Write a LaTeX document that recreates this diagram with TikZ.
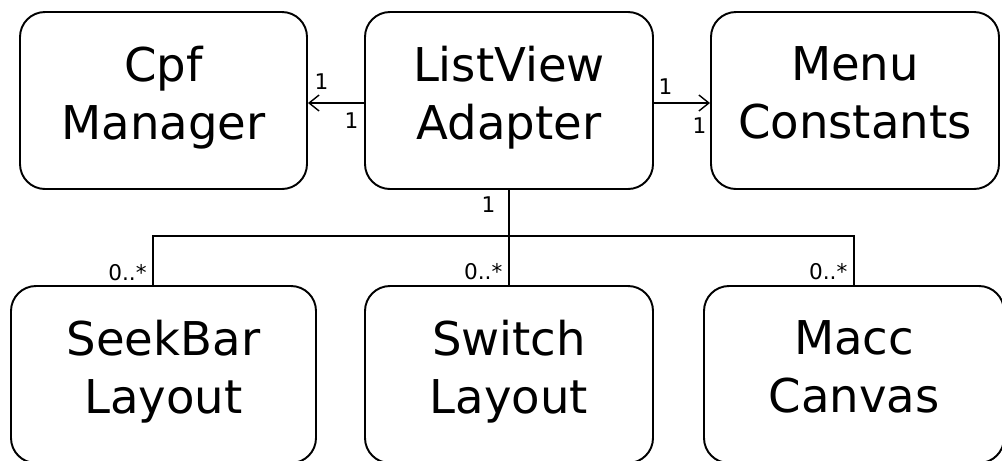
\documentclass[tikz,border=0pt]{standalone}
\usepackage{fontspec}
\setmainfont{DejaVu Sans}
\usetikzlibrary{arrows.meta, positioning}

\begin{document}
\begin{tikzpicture}[node distance=6.91cm]
			\tikzstyle{cls}=[
			rectangle, rounded corners=0.5cm, draw, line width=1.1pt,
			minimum width=5.76cm, minimum height=3.54cm,
			font=\fontsize{26.5}{33}\selectfont, align=center,
			execute at begin node={\rule{0pt}{24pt}},
			execute at end node={\rule[-9.2pt]{0pt}{9.2pt}}
			]
			\tikzstyle{assoc}=[line width=0.8pt]
			\tikzstyle{mult}=[font=\fontsize{12.3}{14}\selectfont, inner sep=3pt]
			
			\useasboundingbox (-3.27,-7.19) rectangle (16.77,2.01);
			
			\node[cls, minimum width=5.74cm] (cpf) at (0,0) {Cpf\\Manager};
			\node[cls, right of=cpf] (lv) {ListView\\Adapter};
			\node[cls, right of=lv, node distance=6.92cm] (menu) {Menu\\Constants};
			\node[cls, below of=cpf, node distance=5.48cm, minimum width=6.1cm] (seek) {SeekBar\\Layout};
			\node[cls, below of=lv, node distance=5.48cm] (sw) {Switch\\Layout};
			\node[cls, below of=menu, node distance=5.48cm, xshift=-0.02cm, minimum width=6cm] (macc) {Macc\\Canvas};
			
			\coordinate (seektop) at ([xshift=-0.21cm]seek.north);
			
			\draw[assoc, -{Straight Barb[length=2mm, width=3.2mm]}] ([yshift=-0.05cm]lv.west) -- ([yshift=-0.05cm]cpf.east)
				node[mult, pos=0, anchor=north east, inner xsep=2.8pt, inner ysep=5pt] {1}
				node[mult, pos=1, anchor=south west, inner xsep=3.4pt, inner ysep=7.4pt] {1};
			\draw[assoc, -{Straight Barb[length=2mm, width=3.2mm]}] ([yshift=-0.05cm]lv.east) -- ([yshift=-0.05cm]menu.west)
				node[mult, pos=0, anchor=south west, inner xsep=2.3pt, inner ysep=4.5pt] {1}
				node[mult, pos=1, anchor=north east, inner xsep=1.7pt, inner ysep=8pt] {1};
			
			\draw[assoc] (lv.south) -- (sw.north)
				node[mult, pos=0, anchor=north east, inner xsep=7.4pt, inner ysep=3.4pt] {1}
				node[mult, pos=1, anchor=south east, inner xsep=3.4pt, inner ysep=2.3pt] {0..*};
			\draw[assoc] (seektop) -- ++(0,0.98) -| (macc.north)
				node[mult, pos=1, anchor=south east, inner xsep=3.4pt, inner ysep=2.3pt] {0..*};
			\node[mult, anchor=south east, inner xsep=3.4pt, inner ysep=2.3pt] (seekmult) at (seektop) {0..*};
		\end{tikzpicture}
\end{document}
